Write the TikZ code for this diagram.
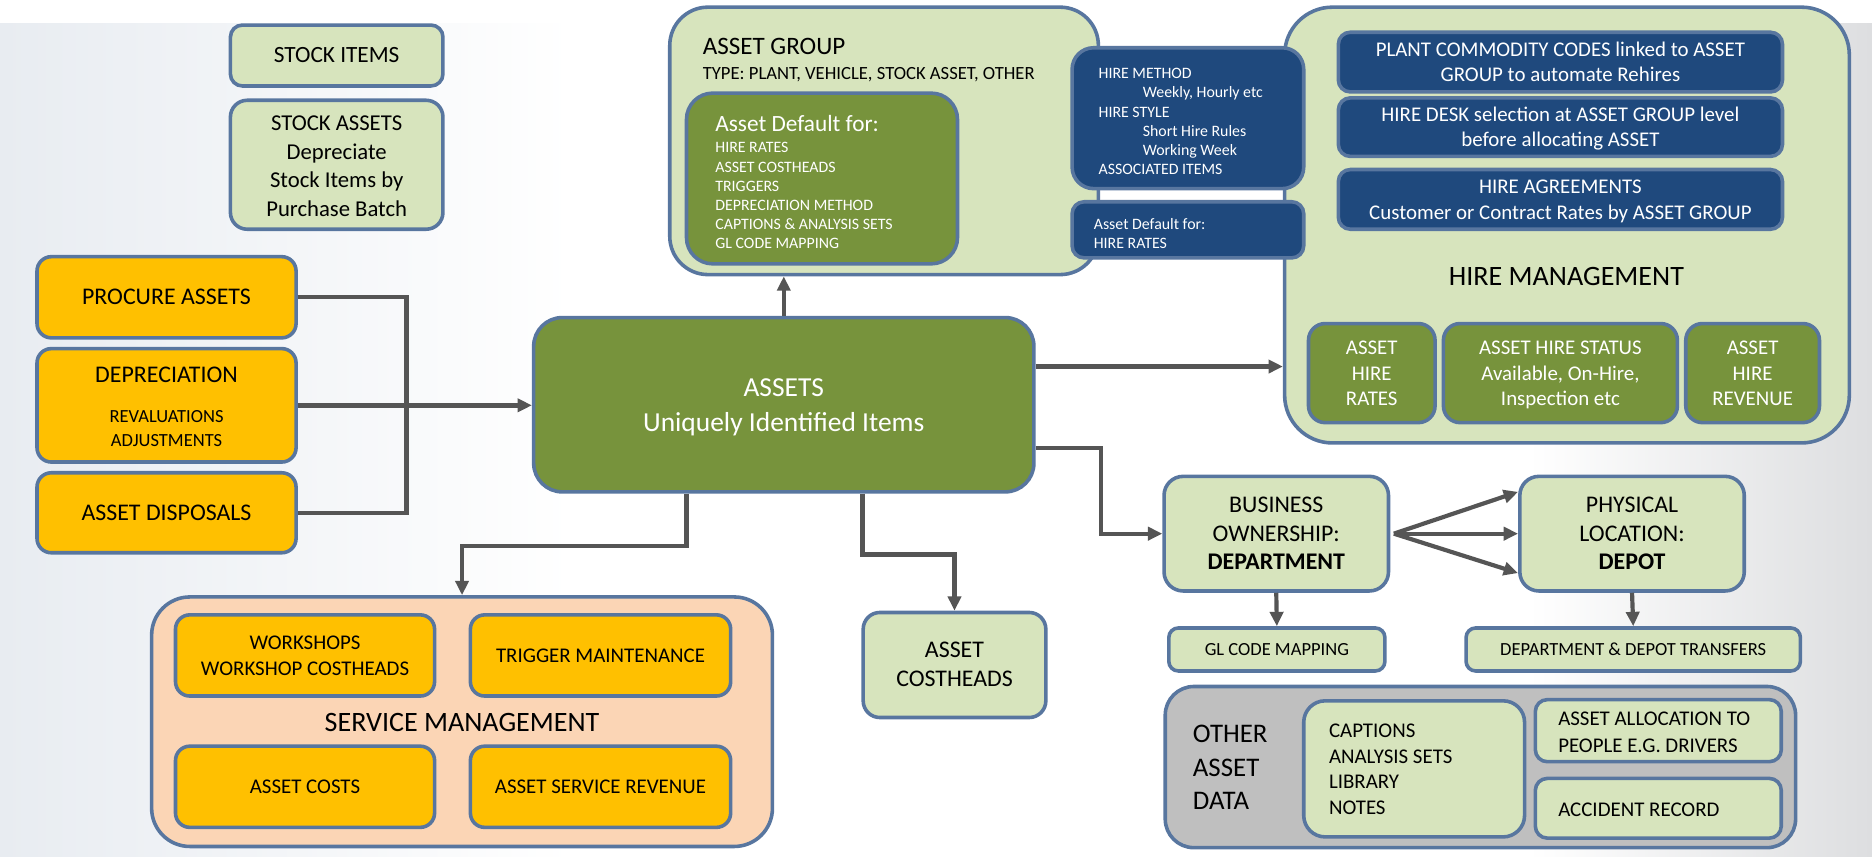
\documentclass[tikz,border=0pt]{standalone}
\usepackage{fontspec}
\setmainfont{Carlito}
\usetikzlibrary{arrows.meta}
\definecolor{lgreen}{HTML}{D7E4BD}
\definecolor{olive}{HTML}{77933C}
\definecolor{navy}{HTML}{1F497D}
\definecolor{amber}{HTML}{FFC000}
\definecolor{peach}{HTML}{FBD5B5}
\definecolor{greybox}{HTML}{BFBFBF}
\definecolor{bord}{HTML}{58769F}
\definecolor{conn}{HTML}{555555}
\definecolor{bgL}{HTML}{E8ECF1}
\definecolor{bgR}{HTML}{DDDEE0}
\tikzset{
  box/.style={draw=bord, line width=3pt, inner sep=0pt, rounded corners=#1pt},
  box/.default=10,
  wh/.style 2 args={minimum width=#1, minimum height=#2},
  f/.style={font=\fontsize{#1}{#1}\selectfont},
  connbar/.style={draw=conn, line width=3.5pt},
  arrowlink/.style={draw=conn, line width=3.5pt, -{Triangle[length=12pt,width=11pt]}},
}
\newcommand\tlines[6]{\foreach \s [count=\i from 0] in {#6}{\node[inner sep=0pt, anchor=base, #5] (#1\i) at (#2,{#3+\i*#4}) {\s};}}
\begin{document}
\begin{tikzpicture}[x=1pt,y=-1pt]
\useasboundingbox (0,0) rectangle (1568,717);
% background
\fill[white] (0,0) rectangle (1568,717);
\shade[left color=bgL, right color=white] (0,20) rectangle (480,717);
\shade[left color=white, right color=bgR] (1280,20) rectangle (1568,717);

% stock
\node[box, fill=lgreen, wh={178}{51}, f=19.5] (stockitems) at (282,46.5) {STOCK ITEMS};
\node[box=14, fill=lgreen, wh={178}{108}] (stockassets) at (282,138) {};
\tlines{sa}{282}{109}{24.2}{f=19}{STOCK ASSETS,Depreciate,Stock Items by,Purchase Batch}

% asset group
\node[box=32, fill=lgreen, wh={359}{224}] (assetgroup) at (740.5,118) {};
\node[inner sep=0pt, anchor=base west, f=21] (agtitle) at (588.5,46) {ASSET GROUP};
\node[inner sep=0pt, anchor=base west, f=15.6] (agtype) at (588.5,67) {TYPE: PLANT, VEHICLE, STOCK ASSET, OTHER};
\node[box=22, fill=olive, wh={227}{143}] (agdefault) at (688.5,149.5) {};
\node[inner sep=0pt, anchor=base west, f=19.5, white] (adtitle) at (599,110) {Asset Default for:};
\tlines{ad}{599}{128}{16.1}{anchor=base west, f=13.3, white}{HIRE RATES,ASSET COSTHEADS,TRIGGERS,DEPRECIATION METHOD,CAPTIONS \& ANALYSIS SETS,GL CODE MAPPING}

% hire management
\node[box=40, fill=lgreen, wh={473}{365}] (hiremgmt) at (1312.5,188.5) {};
\node[box=18, fill=navy, wh={194}{118}] (hiremethod) at (995,99) {};
\tlines{hm}{920}{66}{16}{anchor=base west, f=13.3, white}{HIRE METHOD,{\hspace*{37pt}Weekly, Hourly etc},HIRE STYLE,{\hspace*{37pt}Short Hire Rules},{\hspace*{37pt}Working Week},ASSOCIATED ITEMS}
\node[box=10, fill=navy, wh={194}{47}] (hirerates) at (995,192.5) {};
\tlines{hr}{916}{192}{16}{anchor=base west, f=13.3, white}{Asset Default for:,HIRE RATES}
\node[box=10, fill=navy, wh={372}{50}] (plant) at (1307,52) {};
\tlines{pc}{1307}{47.5}{21}{f=17.5, white}{PLANT COMMODITY CODES linked to ASSET,GROUP to automate Rehires}
\node[box=10, fill=navy, wh={372}{49}] (hiredesk) at (1307,106.5) {};
\tlines{hd}{1307}{102}{21}{f=17.5, white}{HIRE DESK selection at ASSET GROUP level,before allocating ASSET}
\node[box=10, fill=navy, wh={372}{50}] (agree) at (1307,167) {};
\tlines{ag}{1307}{162}{22}{f=17.5, white}{HIRE AGREEMENTS,Customer or Contract Rates by ASSET GROUP}
\node[inner sep=0pt, anchor=base, f=23.5] (hmtitle) at (1312,239) {HIRE MANAGEMENT};
\node[box=14, fill=olive, wh={106}{83}] (ahrates) at (1149,312.5) {};
\tlines{ar}{1149}{297}{21.5}{f=17.5, white}{ASSET,HIRE,RATES}
\node[box=14, fill=olive, wh={196}{83}] (ahstatus) at (1307,312.5) {};
\tlines{as}{1307}{297}{21.5}{f=17.5, white}{ASSET HIRE STATUS,{Available, On-Hire,},Inspection etc}
\node[box=14, fill=olive, wh={112}{83}] (ahrev) at (1468,312.5) {};
\tlines{av}{1468}{297}{21.5}{f=17.5, white}{ASSET,HIRE,REVENUE}

% left yellow
\node[box=12, fill=amber, wh={217}{68}, f=20] (procure) at (139.5,249) {PROCURE ASSETS};
\node[box=12, fill=amber, wh={217}{95}] (deprec) at (139.5,339.5) {};
\node[inner sep=0pt, anchor=base, f=20] (deptitle) at (139.5,320.5) {DEPRECIATION};
\tlines{dp}{139.5}{354}{19.6}{f=15.5}{REVALUATIONS,ADJUSTMENTS}
\node[box=12, fill=amber, wh={217}{67}, f=20] (disposals) at (139.5,429.5) {ASSET DISPOSALS};

% assets
\node[box=24, fill=olive, wh={419}{146}] (assets) at (656.5,339) {};
\tlines{am}{656.5}{332}{29.5}{f=23, white}{ASSETS,Uniquely Identified Items}

% service management
\node[box=32, fill=peach, wh={520}{209}] (service) at (387,604.5) {};
\node[box=12, fill=amber, wh={217}{68}] (workshops) at (255.5,549) {};
\tlines{ws}{255.5}{544}{22}{f=17.5}{WORKSHOPS,WORKSHOP COSTHEADS}
\node[box=12, fill=amber, wh={218}{68}, f=17.5] (trigger) at (503,549) {TRIGGER MAINTENANCE};
\node[inner sep=0pt, anchor=base, f=23.5] (smtitle) at (387,613) {SERVICE MANAGEMENT};
\node[box=12, fill=amber, wh={217}{68}, f=17.5] (acosts) at (255.5,659) {ASSET COSTS};
\node[box=12, fill=amber, wh={218}{68}, f=17.5] (asrev) at (503,659) {ASSET SERVICE REVENUE};

% costheads
\node[box=14, fill=lgreen, wh={153}{88}] (costheads) at (799.5,557) {};
\tlines{ch}{799.5}{551}{24}{f=20}{ASSET,COSTHEADS}

% ownership / location
\node[box=16, fill=lgreen, wh={188}{96}] (business) at (1069,447) {};
\tlines{bo}{1069}{429.5}{23.8}{f=20}{BUSINESS,OWNERSHIP:,\textbf{DEPARTMENT}}
\node[box=16, fill=lgreen, wh={188}{96}] (physical) at (1367,447) {};
\tlines{ph}{1367}{429.5}{23.8}{f=20}{PHYSICAL,LOCATION:,\textbf{DEPOT}}
\node[box=8, fill=lgreen, wh={181}{36}, f=15.5] (glcode) at (1069.5,544) {GL CODE MAPPING};
\node[box=8, fill=lgreen, wh={280}{36}, f=15.5] (transfers) at (1368,544) {DEPARTMENT \& DEPOT TRANSFERS};

% other asset data
\node[box=24, fill=greybox, wh={528}{135}] (other) at (1240,642.5) {};
\tlines{od}{999}{622}{28}{anchor=base west, f=22.5}{OTHER,ASSET,DATA}
\node[box=18, fill=lgreen, wh={185}{114}] (captions) at (1184.5,644) {};
\tlines{cp}{1113}{618}{21.3}{anchor=base west, f=17.5}{CAPTIONS,ANALYSIS SETS,LIBRARY,NOTES}
\node[box=10, fill=lgreen, wh={206}{52}] (alloc) at (1389,612) {};
\tlines{al}{1305}{608}{22}{anchor=base west, f=17.5}{ASSET ALLOCATION TO,PEOPLE E.G. DRIVERS}
\node[box=10, fill=lgreen, wh={206}{50}] (accident) at (1389,677) {};
\node[inner sep=0pt, anchor=base west, f=17.5] (acctext) at (1305,683.5) {ACCIDENT RECORD};

% connectors
\draw[connbar] (procure.east) -- ++(91,0) |- (disposals.east);
\draw[arrowlink, line width=4.5pt] (deprec.east) -- (deprec.east -| assets.west);
\draw[arrowlink] (assets.north) -- (assets.north |- assetgroup.south);
\coordinate (ae1) at ([yshift=32pt]assets.east);
\draw[arrowlink] (ae1) -- (ae1 -| hiremgmt.west);
\coordinate (ae2) at ([yshift=-36pt]assets.east);
\draw[arrowlink] (ae2) -- ++(55,0) |- (business.west);
\coordinate (as1) at ([xshift=-81.5pt]assets.south);
\draw[arrowlink] (as1) -- ++(0,44) -| (service.north);
\coordinate (as2) at ([xshift=66pt]assets.south);
\draw[arrowlink] (as2) -- ++(0,51) -| (costheads.north);
\coordinate (bsrc) at ([xshift=3pt]business.east);
\draw[arrowlink] (bsrc) -- ([yshift=35pt]physical.west);
\draw[arrowlink] (bsrc) -- (physical.west);
\draw[arrowlink] (bsrc) -- ([yshift=-33pt]physical.west);
\draw[arrowlink] (business.south) -- (glcode.north);
\draw[arrowlink] (physical.south) -- (transfers.north);
\end{tikzpicture}
\end{document}
